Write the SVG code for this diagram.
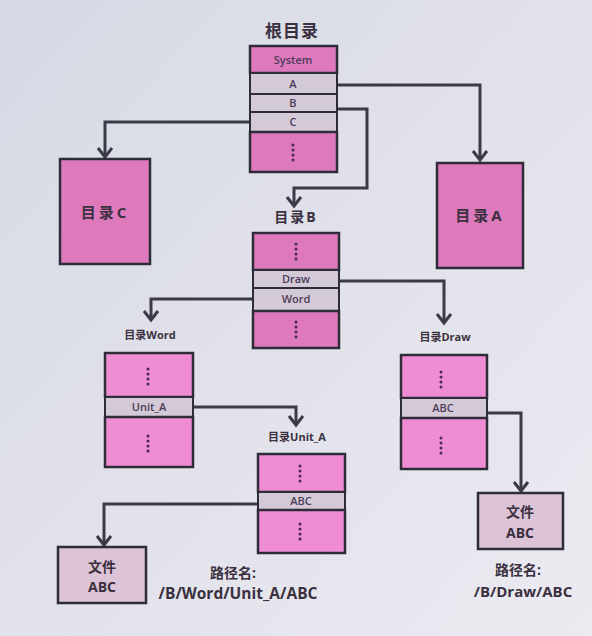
<svg xmlns="http://www.w3.org/2000/svg" width="592" height="636" viewBox="0 0 592 636">
<defs>
<linearGradient id="bg" x1="0" y1="0" x2="1" y2="1">
<stop offset="0" stop-color="#d6d9e4"/>
<stop offset="1" stop-color="#eceaf1"/>
</linearGradient>
<marker id="arr" markerUnits="userSpaceOnUse" markerWidth="20" markerHeight="20" viewBox="-12 -10 14 20" refX="0" refY="0" orient="auto">
<path d="M-9,-7 L0,0 L-9,7" fill="none" stroke="#3a3a48" stroke-width="3" stroke-linejoin="miter"/>
</marker>
</defs>
<style>
.pk{fill:#de79bc;stroke:#2e2c38;stroke-width:2.5}
.pk2{fill:#ee8dd3;stroke:#2e2c38;stroke-width:2.5}
.gr{fill:#d4c9d6;stroke:#2e2c38;stroke-width:2}
.fl{fill:#dcc3d6;stroke:#2e2c38;stroke-width:2.5}
.cell{font-family:"Open Sans","Noto Sans",sans-serif;font-weight:600;font-size:11px;fill:#4b3c58;text-anchor:middle}
.lbl{font-family:"Open Sans","Noto Sans CJK SC",sans-serif;font-weight:700;fill:#3a3040;text-anchor:middle}
.dot{fill:#4a2a50}
.cn{fill:none;stroke:#3a3a48;stroke-width:3}
.ah{marker-end:url(#arr)}
</style>
<rect x="0" y="0" width="592" height="636" fill="url(#bg)"/>

<g id="connectors">
<path class="cn ah" d="M337,85 H480 V160"/>
<path class="cn ah" d="M337,109 H367 V188 H294 V206"/>
<path class="cn ah" d="M250,122 H105 V157"/>
<path class="cn ah" d="M339,281 H444 V323"/>
<path class="cn ah" d="M253,299 H151 V320"/>
<path class="cn ah" d="M193,407 H296 V425"/>
<path class="cn ah" d="M258,504 H104 V545"/>
<path class="cn ah" d="M487,413 H521 V491"/>
</g>

<g id="root">
<text class="lbl" x="292" y="37" font-size="17" letter-spacing="1">根目录</text>
<rect class="pk" x="250" y="46" width="87" height="27"/>
<text class="cell" x="293" y="64">System</text>
<rect class="gr" x="250" y="73" width="87" height="21"/>
<text class="cell" x="293" y="88">A</text>
<rect class="gr" x="250" y="94" width="87" height="18"/>
<text class="cell" x="293" y="107">B</text>
<rect class="gr" x="250" y="112" width="87" height="20"/>
<text class="cell" x="293" y="126">C</text>
<rect class="pk" x="250" y="132" width="87" height="40"/>
<circle class="dot" cx="293" cy="145" r="1.5"/><circle class="dot" cx="293" cy="150" r="1.5"/><circle class="dot" cx="293" cy="155" r="1.5"/><circle class="dot" cx="293" cy="160" r="1.5"/>
</g>

<g id="dirC">
<rect class="pk" x="60" y="159" width="90" height="105"/>
<text class="lbl" x="105" y="218" font-size="15" letter-spacing="3">目录C</text>
</g>

<g id="dirA">
<rect class="pk" x="437" y="163" width="86" height="105"/>
<text class="lbl" x="480" y="221" font-size="15" letter-spacing="3">目录A</text>
</g>

<g id="dirB">
<text class="lbl" x="296" y="222" font-size="14" letter-spacing="2">目录B</text>
<rect class="pk" x="253" y="233" width="86" height="37"/>
<circle class="dot" cx="296" cy="244" r="1.5"/><circle class="dot" cx="296" cy="249" r="1.5"/><circle class="dot" cx="296" cy="254" r="1.5"/><circle class="dot" cx="296" cy="259" r="1.5"/>
<rect class="gr" x="253" y="270" width="86" height="18"/>
<text class="cell" x="296" y="283">Draw</text>
<rect class="gr" x="253" y="288" width="86" height="23"/>
<text class="cell" x="296" y="303">Word</text>
<rect class="pk" x="253" y="311" width="86" height="37"/>
<circle class="dot" cx="296" cy="322" r="1.5"/><circle class="dot" cx="296" cy="327" r="1.5"/><circle class="dot" cx="296" cy="332" r="1.5"/><circle class="dot" cx="296" cy="337" r="1.5"/>
</g>

<g id="dirWord">
<text class="lbl" x="150" y="339" font-size="11">目录Word</text>
<rect class="pk2" x="105" y="353" width="88" height="44"/>
<circle class="dot" cx="148" cy="369" r="1.5"/><circle class="dot" cx="148" cy="374" r="1.5"/><circle class="dot" cx="148" cy="379" r="1.5"/><circle class="dot" cx="148" cy="384" r="1.5"/>
<rect class="gr" x="105" y="397" width="88" height="20"/>
<text class="cell" x="149" y="411">Unit_A</text>
<rect class="pk2" x="105" y="417" width="88" height="50"/>
<circle class="dot" cx="148" cy="436" r="1.5"/><circle class="dot" cx="148" cy="441" r="1.5"/><circle class="dot" cx="148" cy="446" r="1.5"/><circle class="dot" cx="148" cy="451" r="1.5"/>
</g>

<g id="dirUnitA">
<text class="lbl" x="297" y="441" font-size="11">目录Unit_A</text>
<rect class="pk2" x="258" y="454" width="87" height="38"/>
<circle class="dot" cx="300" cy="466" r="1.5"/><circle class="dot" cx="300" cy="471" r="1.5"/><circle class="dot" cx="300" cy="476" r="1.5"/><circle class="dot" cx="300" cy="481" r="1.5"/>
<rect class="gr" x="258" y="492" width="87" height="18"/>
<text class="cell" x="301" y="505">ABC</text>
<rect class="pk2" x="258" y="510" width="87" height="43"/>
<circle class="dot" cx="300" cy="524" r="1.5"/><circle class="dot" cx="300" cy="529" r="1.5"/><circle class="dot" cx="300" cy="534" r="1.5"/><circle class="dot" cx="300" cy="539" r="1.5"/>
</g>

<g id="dirDraw">
<text class="lbl" x="445" y="341" font-size="11">目录Draw</text>
<rect class="pk2" x="401" y="355" width="86" height="43"/>
<circle class="dot" cx="441" cy="372" r="1.5"/><circle class="dot" cx="441" cy="377" r="1.5"/><circle class="dot" cx="441" cy="382" r="1.5"/><circle class="dot" cx="441" cy="387" r="1.5"/>
<rect class="gr" x="401" y="398" width="86" height="20"/>
<text class="cell" x="443" y="412">ABC</text>
<rect class="pk2" x="401" y="418" width="86" height="51"/>
<circle class="dot" cx="441" cy="438" r="1.5"/><circle class="dot" cx="441" cy="443" r="1.5"/><circle class="dot" cx="441" cy="448" r="1.5"/><circle class="dot" cx="441" cy="453" r="1.5"/>
</g>

<g id="fileWord">
<rect class="fl" x="58" y="547" width="88" height="56"/>
<text class="lbl" x="102" y="572" font-size="14">文件</text>
<text class="lbl" x="102" y="592" font-size="14">ABC</text>
<text class="lbl" x="233" y="578" font-size="14">路径名:</text>
<text class="lbl" x="238" y="599" font-size="15.5">/B/Word/Unit_A/ABC</text>
</g>

<g id="fileDraw">
<rect class="fl" x="478" y="493" width="85" height="56"/>
<text class="lbl" x="520" y="517" font-size="14">文件</text>
<text class="lbl" x="520" y="538" font-size="14">ABC</text>
<text class="lbl" x="518" y="575" font-size="14">路径名:</text>
<text class="lbl" x="523" y="597" font-size="15">/B/Draw/ABC</text>
</g>
</svg>
